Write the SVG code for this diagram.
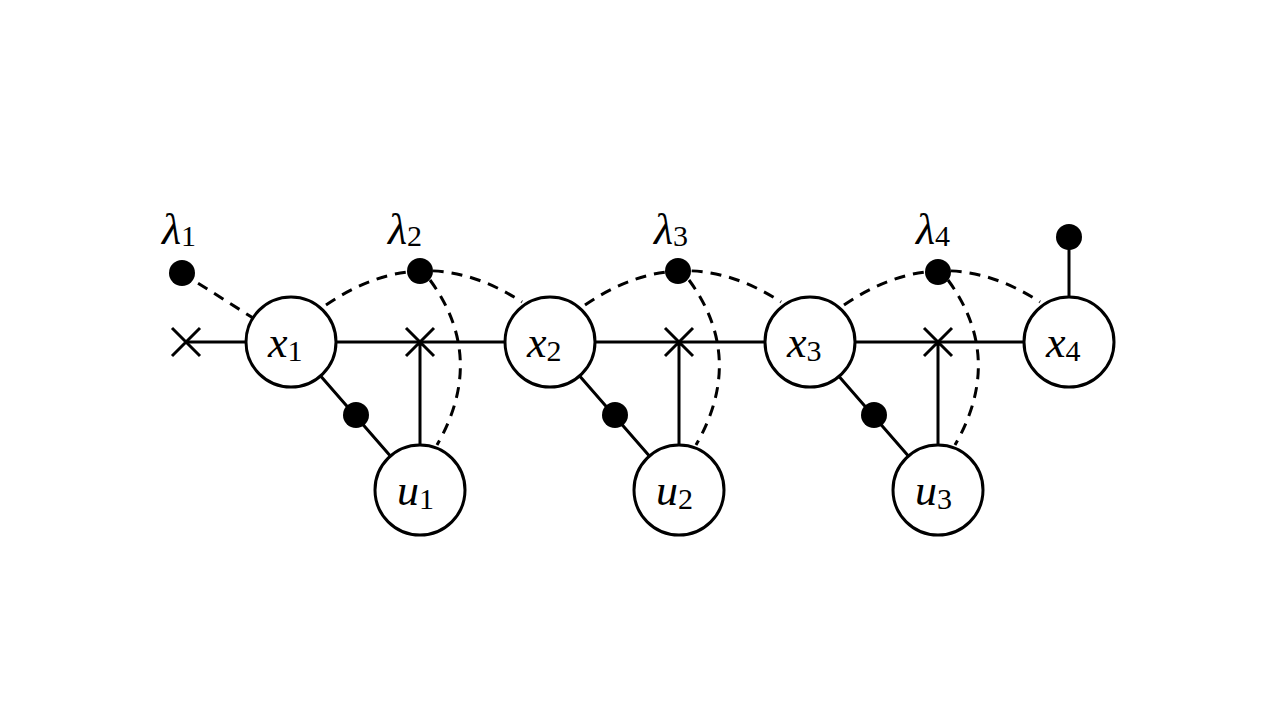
<svg xmlns="http://www.w3.org/2000/svg" width="1280" height="720" viewBox="0 0 1280 720">
<style>
.n{fill:#fff;stroke:#000;stroke-width:3}
.l{stroke:#000;stroke-width:3;fill:none}
.d{stroke:#000;stroke-width:3;fill:none;stroke-dasharray:11,8}
.t{font-family:"Liberation Serif",serif;font-style:italic;font-size:44px}
.s{font-family:"Liberation Serif",serif;font-size:30px;font-style:normal}
</style>
<rect width="1280" height="720" fill="#fff"/>
<g id="connectors">
<path class="l" d="M186 342H1069"/>
<path class="l" d="M172 328l28 28M200 328l-28 28"/>
<g id="f1"><path class="l" d="M406 328l28 28M434 328l-28 28M420 342V490M291 342L420 490"/><path class="d" d="M182 273L291 342M326 305Q424 238 522 302M430 280Q487 358 437 445"/><circle cx="356" cy="415" r="13"/></g>
<g transform="translate(259,0)"><path class="l" d="M406 328l28 28M434 328l-28 28M420 342V490M291 342L420 490"/><path class="d" d="M326 305Q424 238 522 302M430 280Q487 358 437 445"/><circle cx="356" cy="415" r="13"/></g>
<g transform="translate(518,0)"><path class="l" d="M406 328l28 28M434 328l-28 28M420 342V490M291 342L420 490"/><path class="d" d="M326 305Q424 238 522 302M430 280Q487 358 437 445"/><circle cx="356" cy="415" r="13"/></g>
<path class="l" d="M1069 237V342"/>
</g>
<g id="dots">
<circle cx="182" cy="273" r="13"/><circle cx="420" cy="271" r="13"/><circle cx="678" cy="271" r="13"/><circle cx="938" cy="272" r="13"/><circle cx="1069" cy="237" r="13"/>
</g>
<g id="labels">
<text x="162" y="244" class="t">λ<tspan class="s" dy="2">1</tspan></text>
<text x="388" y="244" class="t">λ<tspan class="s" dy="2">2</tspan></text>
<text x="654" y="244" class="t">λ<tspan class="s" dy="2">3</tspan></text>
<text x="916" y="244" class="t">λ<tspan class="s" dy="2">4</tspan></text>
</g>
<g id="x1"><circle class="n" cx="291" cy="342" r="45"/><text x="268" y="357" class="t">x<tspan class="s" dy="4">1</tspan></text></g>
<g id="x2"><circle class="n" cx="550" cy="342" r="45"/><text x="527" y="357" class="t">x<tspan class="s" dy="4">2</tspan></text></g>
<g id="x3"><circle class="n" cx="810" cy="342" r="45"/><text x="787" y="357" class="t">x<tspan class="s" dy="4">3</tspan></text></g>
<g id="x4"><circle class="n" cx="1069" cy="342" r="45"/><text x="1046" y="357" class="t">x<tspan class="s" dy="4">4</tspan></text></g>
<g id="u1"><circle class="n" cx="420" cy="490" r="45"/><text x="397" y="505" class="t">u<tspan class="s" dy="4">1</tspan></text></g>
<g id="u2"><circle class="n" cx="679" cy="490" r="45"/><text x="656" y="505" class="t">u<tspan class="s" dy="4">2</tspan></text></g>
<g id="u3"><circle class="n" cx="938" cy="490" r="45"/><text x="915" y="505" class="t">u<tspan class="s" dy="4">3</tspan></text></g>
</svg>
